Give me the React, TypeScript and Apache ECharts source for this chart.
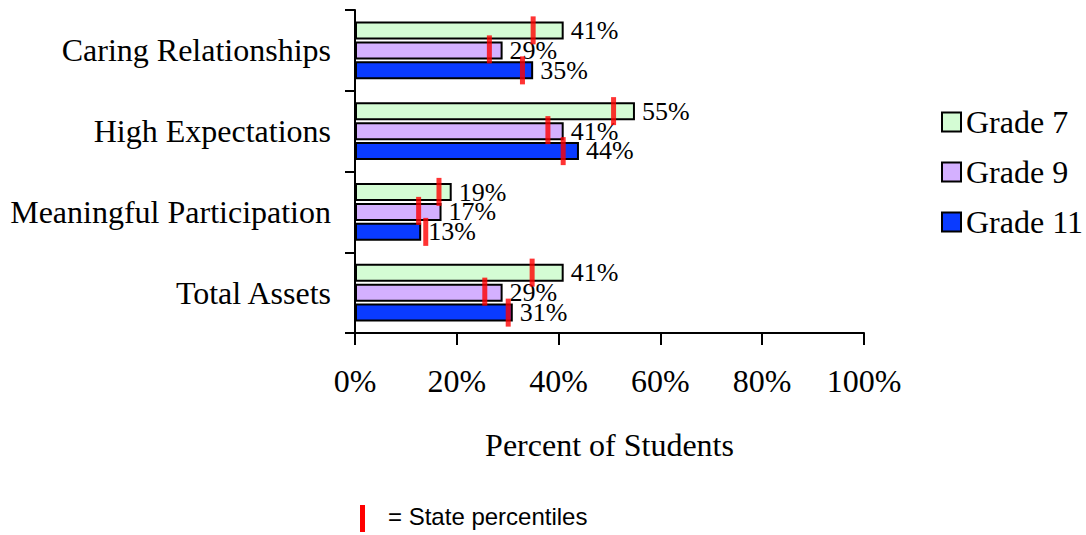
import React, { useEffect, useRef } from "react";
import * as echarts from "echarts";

const categories = ["Caring Relationships", "High Expectations", "Meaningful Participation", "Total Assets"];
const grades = ["Grade 7", "Grade 9", "Grade 11"];
const grade7 = [41, 55, 19, 41];
const grade9 = [29, 41, 17, 29];
const grade11 = [35, 44, 13, 31];
const state7 = [35, 50.8, 16.5, 34.8];
const state9 = [26.4, 37.9, 12.5, 25.5];
const state11 = [32.9, 40.9, 13.9, 30.1];
const xTicks = [0, 20, 40, 60, 80, 100];

const colors = ["#d4fcd4", "#d4b0ff", "#0a3bff"];
const SERIF = "'Liberation Serif', 'Times New Roman', serif";

export default function App() {
  const ref = useRef<HTMLDivElement>(null);
  useEffect(() => {
    const chart = echarts.init(ref.current!, null, { renderer: "svg" });
    const values = [grade7, grade9, grade11];
    const states = [state7, state9, state11];
    const offsets = [-20, -1, 20];
    const barSeries = grades.map((g, i) => ({
      name: g,
      type: "bar",
      data: values[i],
      barWidth: 18,
      barGap: "10%",
      itemStyle: { color: colors[i], borderColor: "#000", borderWidth: 2 },
      label: {
        show: true,
        position: "right",
        distance: 7,
        formatter: "{c}%",
        color: "#000",
        fontFamily: SERIF,
        fontSize: 26,
      },
      z: 2,
    }));
    const markSeries = grades.map((g, i) => ({
      name: "state-" + g,
      type: "scatter",
      data: states[i].map((v, j) => [v, j]),
      symbol: "rect",
      symbolSize: [5, 28],
      symbolOffset: [0, offsets[i]],
      itemStyle: { color: "#ff0000" },
      z: 5,
      silent: true,
    }));
    chart.setOption({
      animation: false,
      grid: { left: 355, top: 10, width: 509, height: 323 },
      legend: {
        data: grades,
        orient: "vertical",
        left: 936,
        top: 101,
        itemWidth: 19,
        itemHeight: 19,
        itemGap: 18,
        icon: "rect",
        itemStyle: { borderColor: "#000", borderWidth: 2 },
        textStyle: { fontFamily: SERIF, fontSize: 32, color: "#000", lineHeight: 32 },
      },
      xAxis: {
        type: "value",
        min: xTicks[0],
        max: xTicks[xTicks.length - 1],
        interval: 20,
        splitLine: { show: false },
        axisLine: { show: true, lineStyle: { color: "#000", width: 2 } },
        axisTick: { show: true, length: 12, lineStyle: { color: "#000", width: 2 } },
        axisLabel: {
          formatter: "{value}%",
          color: "#000",
          fontFamily: SERIF,
          fontSize: 32,
          margin: 32,
        },
        name: "Percent of Students",
        nameLocation: "middle",
        nameGap: 96,
        nameTextStyle: { color: "#000", fontFamily: SERIF, fontSize: 32 },
      },
      yAxis: {
        type: "category",
        data: categories,
        inverse: true,
        axisLine: { show: true, lineStyle: { color: "#000", width: 2 } },
        axisTick: { show: true, length: 10, lineStyle: { color: "#000", width: 2 } },
        axisLabel: {
          color: "#000",
          fontFamily: SERIF,
          fontSize: 32,
          margin: 24,
        },
      },
      graphic: [
        { type: "rect", left: 360, top: 505, shape: { width: 5, height: 27 }, style: { fill: "#ff0000" } },
        {
          type: "text",
          left: 388,
          top: 504,
          style: { text: "= State percentiles", fontFamily: "'Liberation Sans', Arial, sans-serif", fontSize: 24, fill: "#000" },
        },
      ],
      series: [...barSeries, ...markSeries],
    });
    return () => chart.dispose();
  }, []);
  return <div ref={ref} style={{ position: "fixed", left: 0, top: 0, width: 1086, height: 535, background: "#fff" }} />;
}
